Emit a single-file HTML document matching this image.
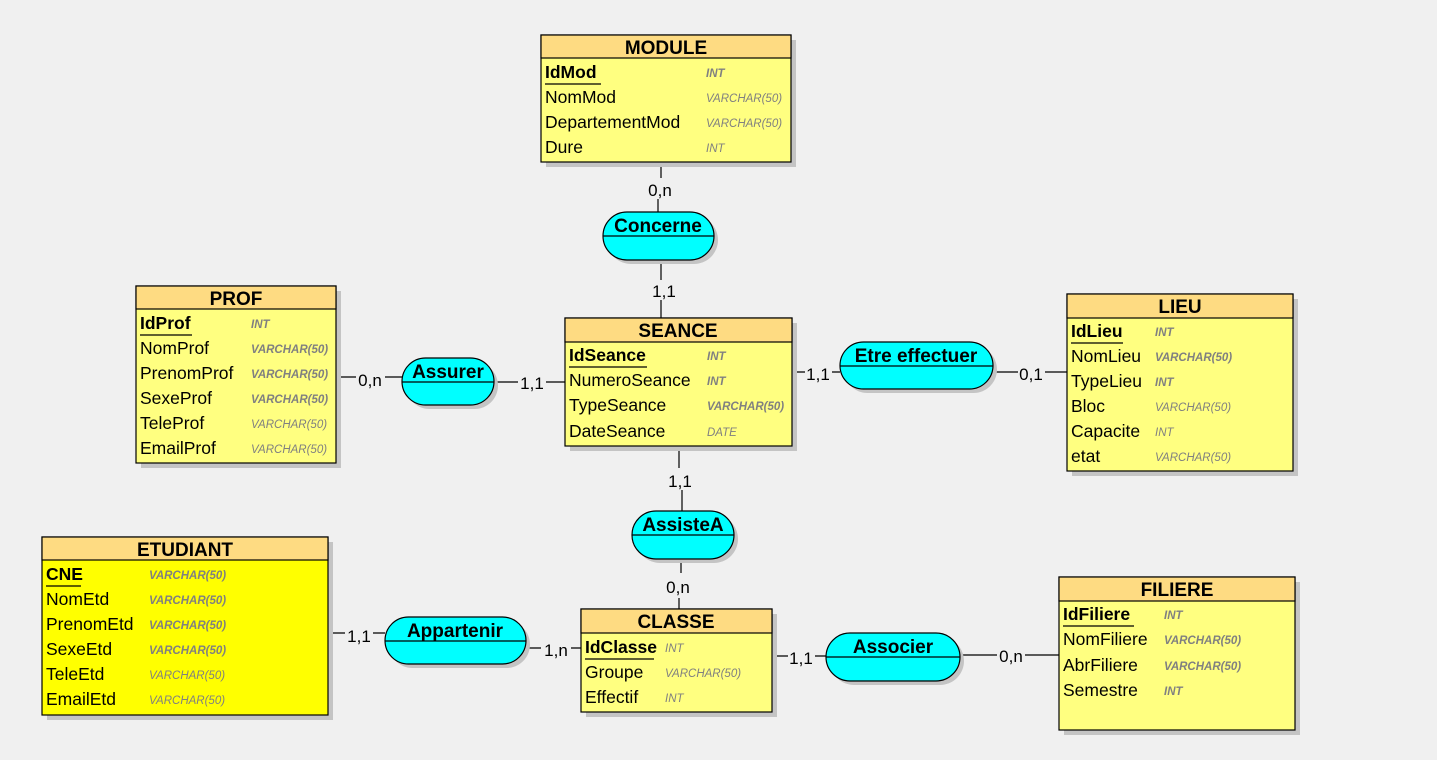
<!DOCTYPE html>
<html><head><meta charset="utf-8"><style>
html,body{margin:0;padding:0;background:#f0f0f0;}
svg{display:block;font-family:"Liberation Sans",sans-serif;}
.t{font-size:19px;font-weight:bold;text-anchor:middle;fill:#000}
.n{font-size:17.5px;fill:#000}
.k{font-size:17.5px;font-weight:bold;fill:#000}
.ty{font-size:11.5px;font-style:italic;fill:#808080}
.tb{font-size:11.5px;font-style:italic;font-weight:bold;fill:#808080}
.c{font-size:17px;fill:#000;text-anchor:middle}
.sh{fill:#c4c4c4}
.hd{fill:#fedb82;stroke:#000;stroke-width:1.2}
.bd{fill:#ffff80;stroke:#000;stroke-width:1.2}
.pl{fill:#00ffff;stroke:#000;stroke-width:1.2}
.ln{stroke:#000;stroke-width:1.2;fill:none}
</style></head><body>
<svg width="1437" height="760" viewBox="0 0 1437 760">
<rect width="1437" height="760" fill="#f0f0f0"/>

<g class="ln">
<path d="M661 162V178M658 199V212"/>
<path d="M661 260V280M661 300V318"/>
<path d="M336 377H356M385 377H402"/>
<path d="M494 382H518M546 382H565"/>
<path d="M792 372H805M832 372H840"/>
<path d="M993 372H1018M1045 372H1067"/>
<path d="M679 446V468M682 490V511"/>
<path d="M681 559V573M679 598V609"/>
<path d="M328 633H345M373 633H385"/>
<path d="M526 648H541M571 648H581"/>
<path d="M772 656H788M815 656H826"/>
<path d="M960 655H997M1025 655H1059"/>
</g>
<text class="c" x="660" y="196">0,n</text>
<text class="c" x="664" y="297">1,1</text>
<text class="c" x="370" y="386">0,n</text>
<text class="c" x="532" y="389">1,1</text>
<text class="c" x="818" y="380">1,1</text>
<text class="c" x="1031" y="380">0,1</text>
<text class="c" x="680" y="487">1,1</text>
<text class="c" x="678" y="593">0,n</text>
<text class="c" x="359" y="642">1,1</text>
<text class="c" x="556" y="656">1,n</text>
<text class="c" x="801" y="664">1,1</text>
<text class="c" x="1011" y="662">0,n</text>

<g>
<rect class="sh" x="607" y="216" width="111" height="48" rx="24"/>
<rect class="pl" x="603" y="212" width="111" height="48" rx="24"/>
<line class="ln" x1="603" y1="236" x2="714" y2="236"/>
<text class="t" x="658" y="232">Concerne</text>

<rect class="sh" x="406" y="362" width="92" height="47" rx="23.5"/>
<rect class="pl" x="402" y="358" width="92" height="47" rx="23.5"/>
<line class="ln" x1="402" y1="382" x2="494" y2="382"/>
<text class="t" x="448" y="378">Assurer</text>

<rect class="sh" x="844" y="346" width="153" height="47" rx="23.5"/>
<rect class="pl" x="840" y="342" width="153" height="47" rx="23.5"/>
<line class="ln" x1="840" y1="366" x2="993" y2="366"/>
<text class="t" x="916" y="362">Etre effectuer</text>

<rect class="sh" x="636" y="515" width="102" height="48" rx="24"/>
<rect class="pl" x="632" y="511" width="102" height="48" rx="24"/>
<line class="ln" x1="632" y1="535" x2="734" y2="535"/>
<text class="t" x="683" y="531">AssisteA</text>

<rect class="sh" x="389" y="621" width="141" height="47" rx="23.5"/>
<rect class="pl" x="385" y="617" width="141" height="47" rx="23.5"/>
<line class="ln" x1="385" y1="641" x2="526" y2="641"/>
<text class="t" x="455" y="637">Appartenir</text>

<rect class="sh" x="830" y="637" width="134" height="48" rx="24"/>
<rect class="pl" x="826" y="633" width="134" height="48" rx="24"/>
<line class="ln" x1="826" y1="657" x2="960" y2="657"/>
<text class="t" x="893" y="653">Associer</text>
</g>

<rect class="sh" x="546" y="40" width="250" height="127"/>
<rect class="bd" x="541" y="35" width="250" height="127"/>
<rect class="hd" x="541" y="35" width="250" height="23"/>
<text class="t" x="666" y="54">MODULE</text>
<text class="k" x="545" y="78">IdMod</text><line class="ln" x1="545" y1="84" x2="601" y2="84"/>
<text class="tb" x="706" y="77">INT</text>
<text class="n" x="545" y="103">NomMod</text><text class="ty" x="706" y="102">VARCHAR(50)</text>
<text class="n" x="545" y="128">DepartementMod</text><text class="ty" x="706" y="127">VARCHAR(50)</text>
<text class="n" x="545" y="153">Dure</text><text class="ty" x="706" y="152">INT</text>

<rect class="sh" x="141" y="291" width="200" height="177"/>
<rect class="bd" x="136" y="286" width="200" height="177"/>
<rect class="hd" x="136" y="286" width="200" height="23"/>
<text class="t" x="236" y="305">PROF</text>
<text class="k" x="140" y="329">IdProf</text><line class="ln" x1="140" y1="335" x2="192" y2="335"/>
<text class="tb" x="251" y="328">INT</text>
<text class="n" x="140" y="354">NomProf</text><text class="tb" x="251" y="353">VARCHAR(50)</text>
<text class="n" x="140" y="379">PrenomProf</text><text class="tb" x="251" y="378">VARCHAR(50)</text>
<text class="n" x="140" y="404">SexeProf</text><text class="tb" x="251" y="403">VARCHAR(50)</text>
<text class="n" x="140" y="429">TeleProf</text><text class="ty" x="251" y="428">VARCHAR(50)</text>
<text class="n" x="140" y="454">EmailProf</text><text class="ty" x="251" y="453">VARCHAR(50)</text>

<rect class="sh" x="570" y="323" width="227" height="128"/>
<rect class="bd" x="565" y="318" width="227" height="128"/>
<rect class="hd" x="565" y="318" width="227" height="24"/>
<text class="t" x="678" y="337">SEANCE</text>
<text class="k" x="569" y="361">IdSeance</text><line class="ln" x1="569" y1="367" x2="647" y2="367"/>
<text class="tb" x="707" y="360">INT</text>
<text class="n" x="569" y="386">NumeroSeance</text><text class="tb" x="707" y="385">INT</text>
<text class="n" x="569" y="411">TypeSeance</text><text class="tb" x="707" y="410">VARCHAR(50)</text>
<text class="n" x="569" y="437">DateSeance</text><text class="ty" x="707" y="436">DATE</text>

<rect class="sh" x="1072" y="299" width="226" height="177"/>
<rect class="bd" x="1067" y="294" width="226" height="177"/>
<rect class="hd" x="1067" y="294" width="226" height="24"/>
<text class="t" x="1180" y="313">LIEU</text>
<text class="k" x="1071" y="337">IdLieu</text><line class="ln" x1="1071" y1="343" x2="1123" y2="343"/>
<text class="tb" x="1155" y="336">INT</text>
<text class="n" x="1071" y="362">NomLieu</text><text class="tb" x="1155" y="361">VARCHAR(50)</text>
<text class="n" x="1071" y="387">TypeLieu</text><text class="tb" x="1155" y="386">INT</text>
<text class="n" x="1071" y="412">Bloc</text><text class="ty" x="1155" y="411">VARCHAR(50)</text>
<text class="n" x="1071" y="437">Capacite</text><text class="ty" x="1155" y="436">INT</text>
<text class="n" x="1071" y="462">etat</text><text class="ty" x="1155" y="461">VARCHAR(50)</text>

<rect class="sh" x="47" y="542" width="286" height="178"/>
<rect class="bd" style="fill:#ffff00" x="42" y="537" width="286" height="178"/>
<rect class="hd" x="42" y="537" width="286" height="23"/>
<text class="t" x="185" y="556">ETUDIANT</text>
<text class="k" x="46" y="580">CNE</text><line class="ln" x1="46" y1="586" x2="81" y2="586"/>
<text class="tb" x="149" y="579">VARCHAR(50)</text>
<text class="n" x="46" y="605">NomEtd</text><text class="tb" x="149" y="604">VARCHAR(50)</text>
<text class="n" x="46" y="630">PrenomEtd</text><text class="tb" x="149" y="629">VARCHAR(50)</text>
<text class="n" x="46" y="655">SexeEtd</text><text class="tb" x="149" y="654">VARCHAR(50)</text>
<text class="n" x="46" y="680">TeleEtd</text><text class="ty" x="149" y="679">VARCHAR(50)</text>
<text class="n" x="46" y="705">EmailEtd</text><text class="ty" x="149" y="704">VARCHAR(50)</text>

<rect class="sh" x="1064" y="582" width="236" height="153"/>
<rect class="bd" x="1059" y="577" width="236" height="153"/>
<rect class="hd" x="1059" y="577" width="236" height="24"/>
<text class="t" x="1177" y="596">FILIERE</text>
<text class="k" x="1063" y="620">IdFiliere</text><line class="ln" x1="1063" y1="626" x2="1134" y2="626"/>
<text class="tb" x="1164" y="619">INT</text>
<text class="n" x="1063" y="645">NomFiliere</text><text class="tb" x="1164" y="644">VARCHAR(50)</text>
<text class="n" x="1063" y="671">AbrFiliere</text><text class="tb" x="1164" y="670">VARCHAR(50)</text>
<text class="n" x="1063" y="696">Semestre</text><text class="tb" x="1164" y="695">INT</text>

<rect class="sh" x="586" y="614" width="191" height="103"/>
<rect class="bd" x="581" y="609" width="191" height="103"/>
<rect class="hd" x="581" y="609" width="191" height="24"/>
<text class="t" x="676" y="628">CLASSE</text>
<text class="k" x="585" y="653">IdClasse</text><line class="ln" x1="585" y1="659" x2="654" y2="659"/>
<text class="ty" x="665" y="652">INT</text>
<text class="n" x="585" y="678">Groupe</text><text class="ty" x="665" y="677">VARCHAR(50)</text>
<text class="n" x="585" y="703">Effectif</text><text class="ty" x="665" y="702">INT</text>
</svg>
</body></html>
